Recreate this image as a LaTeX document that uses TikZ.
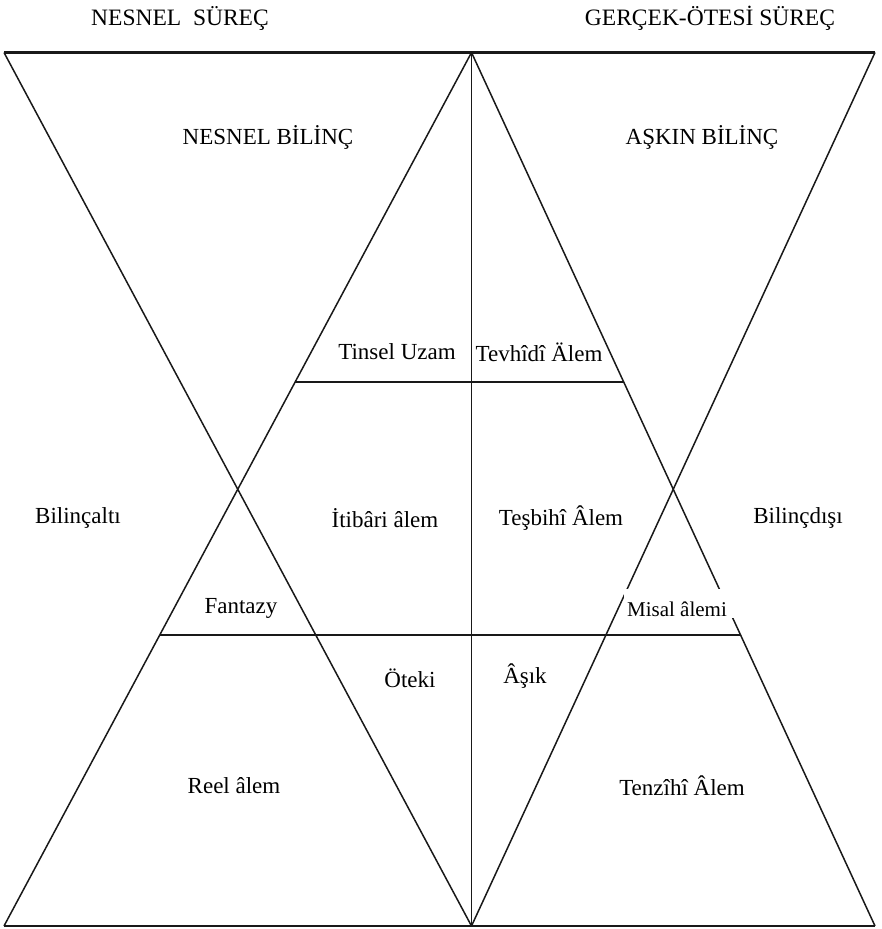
\documentclass[tikz,border=0pt]{standalone}
\usepackage{fontspec}
\setmainfont{Liberation Serif}
\usetikzlibrary{calc}
\begin{document}
\begin{tikzpicture}[x=1pt,y=-1pt,
  edge/.style={line width=1.5pt, black!90},
  rim/.style={line width=2.2pt, black!90},
  lbl/.style={font=\fontsize{23}{23}\selectfont, inner sep=0pt},
  ttl/.style={font=\fontsize{23.5}{23.5}\selectfont, inner sep=0pt},
  small/.style={font=\fontsize{21}{21}\selectfont, inner sep=0pt}]
\useasboundingbox (0,0) rectangle (882,929);
% corners
\coordinate (TL) at (4,52.5);
\coordinate (TC) at (471.5,52.5);
\coordinate (TR) at (875,52.5);
\coordinate (BL) at (4,926);
\coordinate (BC) at (471.5,926);
\coordinate (BR) at (875,926);
% horizontal ends
\coordinate (H1L) at ($(TC)!0.3772!(BL)$);
\coordinate (H1R) at ($(TC)!0.3772!(BR)$);
\coordinate (H2L) at ($(TC)!0.6669!(BL)$);
\coordinate (H2R) at ($(TC)!0.6669!(BR)$);
% diagonals
\draw[edge] (TL) -- (BC);
\draw[edge] (TC) -- (BL);
\draw[edge] (TC) -- (BR);
\draw[edge] (TR) -- (BC);
\draw[edge] (TC) -- (BC);
\draw[edge] (H1L) -- (H1R);
\draw[edge] (H2L) -- (H2R);
\draw[rim] (TL) -- (TR);
\draw[rim] (BL) -- (BR);
% titles
\node[ttl] (t1) at (180,18) {NESNEL\ \ SÜREÇ};
\node[ttl] (t2) at (710,18) {GERÇEK-ÖTESİ SÜREÇ};
% labels
\node[lbl] (nb) at (268,137) {NESNEL BİLİNÇ};
\node[lbl] (ab) at (702,137) {AŞKIN BİLİNÇ};
\node[lbl] (tu) at (397,352) {Tinsel Uzam};
\node[lbl] (ta) at (539,352) {Tevhîdî Älem};
\node[lbl] (ba) at (78,518) {Bilinçaltı};
\node[lbl] (ia) at (385,518) {İtibâri âlem};
\node[lbl] (tsa) at (561,518) {Teşbihî Âlem};
\node[lbl] (bd) at (798,518) {Bilinçdışı};
\node[lbl] (fa) at (241,608) {Fantazy};
\node[fill=white, minimum width=111pt, minimum height=29pt, inner sep=0pt] (mask) at (679.5,603.5) {};
\node[small] (ma) at (677,609) {Misal âlemi};
\node[lbl] (ot) at (410,678) {Öteki};
\node[lbl] (as) at (525,676) {Âşık};
\node[lbl] (ra) at (234,786) {Reel âlem};
\node[lbl] (tza) at (682,786) {Tenzîhî Âlem};
\end{tikzpicture}
\end{document}
